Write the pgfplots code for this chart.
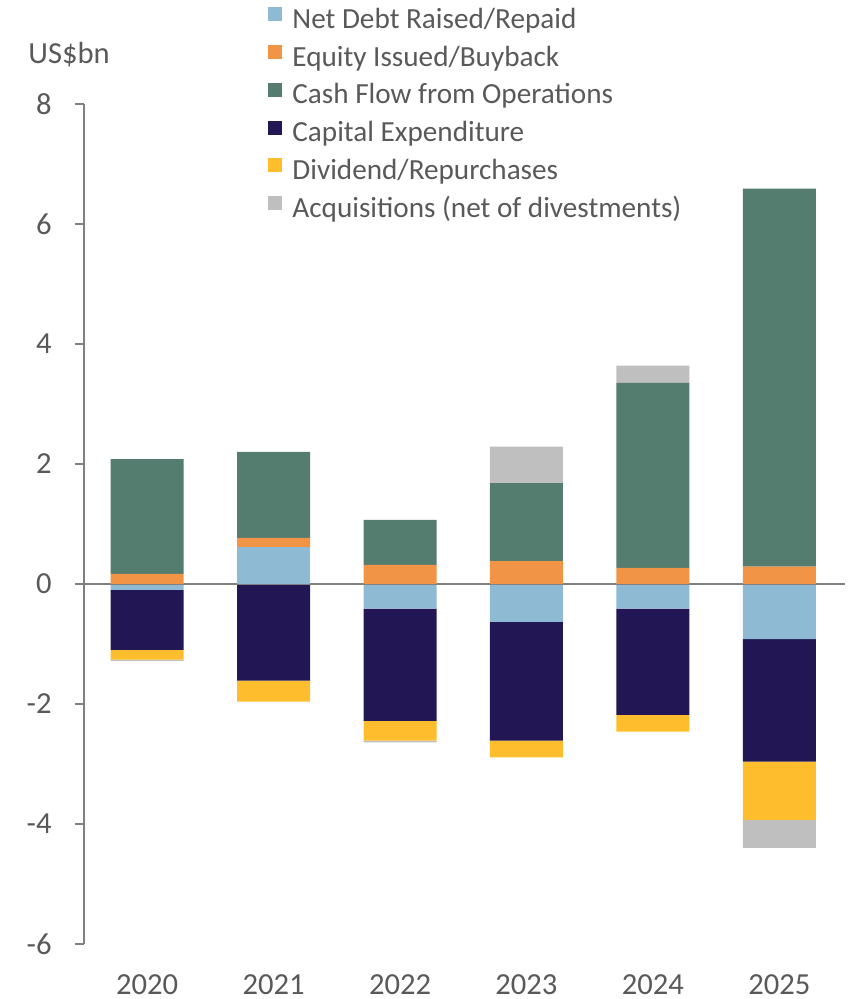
\documentclass[border=0pt]{standalone}
\usepackage{fontspec}
\setmainfont{Carlito}
\usepackage{pgfplots}
\pgfplotsset{compat=1.18}
\definecolor{cNet}{HTML}{8FBAD3}
\definecolor{cEq}{HTML}{F29446}
\definecolor{cCfo}{HTML}{547C6F}
\definecolor{cCap}{HTML}{221655}
\definecolor{cDiv}{HTML}{FDBD2C}
\definecolor{cAcq}{HTML}{BFBFBF}
\definecolor{txt}{HTML}{595959}
\definecolor{axg}{HTML}{808080}
\pgfplotsset{
  common/.style={
    scale only axis, width=380.5pt, height=420pt,
    xmin=-0.5, xmax=5.52, ymin=-6, ymax=8,
    ybar stacked, bar width=36.5pt,
    every axis plot/.append style={draw=none},
  },
  sq/.style={legend image code/.code={\fill[#1] (0pt,0pt) rectangle (7pt,7pt);}},
}
\begin{document}
\begin{tikzpicture}
\path[use as bounding box] (-42pt,-27.5pt) rectangle (383.5pt,472pt);
% negative stacks
\begin{axis}[common, axis x line=none, axis y line=none]
\addplot[fill=cNet] coordinates {(0,-0.10) (1,0) (2,-0.41) (3,-0.63) (4,-0.41) (5,-0.92)};
\addplot[fill=cCap] coordinates {(0,-1.00) (1,-1.61) (2,-1.87) (3,-1.98) (4,-1.77) (5,-2.04)};
\addplot[fill=cDiv] coordinates {(0,-0.16) (1,-0.35) (2,-0.33) (3,-0.28) (4,-0.28) (5,-0.97)};
\addplot[fill=cAcq] coordinates {(0,-0.02) (1,0) (2,-0.03) (3,0) (4,0) (5,-0.47)};
\end{axis}
% positive stacks
\begin{axis}[common,
  axis y line*=left, axis x line*=bottom,
  x axis line style={draw=none}, xtick style={draw=none},
  xtick={0,1,2,3,4,5}, xticklabels={2020,2021,2022,2023,2024,2025},
  ytick={-6,-4,...,8},
  tick align=outside, major tick length=4.5pt,
  y axis line style={axg, line width=0.7pt}, ytick style={axg, line width=0.7pt},
  /pgf/number format/assume math mode=true,
  tick label style={font=\fontsize{15.3pt}{18pt}\selectfont, text=txt},
  yticklabel style={anchor=east, inner sep=0pt, xshift=-11.5pt},
  xticklabel style={anchor=north, inner sep=0pt, yshift=-10.5pt},
  legend style={at={(axis description cs:0.2418,1.1156)}, anchor=north west,
    draw=none, fill=none, inner sep=0pt, row sep=5.4pt,
    font=\fontsize{14.6pt}{17pt}\selectfont, text=txt,
    nodes={inner sep=0pt, text height=10pt, text depth=3pt},
    /tikz/every odd column/.append style={column sep=5pt}},
  legend cell align=left,
  clip=false,
]
\addplot[fill=cNet, forget plot] coordinates {(0,0) (1,0.62) (2,0) (3,0) (4,0) (5,0)};
\addplot[fill=cEq, forget plot] coordinates {(0,0.17) (1,0.15) (2,0.32) (3,0.38) (4,0.27) (5,0.29)};
\addplot[fill=cCfo, forget plot] coordinates {(0,1.91) (1,1.43) (2,0.75) (3,1.30) (4,3.08) (5,6.30)};
\addplot[fill=cAcq, forget plot] coordinates {(0,0) (1,0) (2,0) (3,0.61) (4,0.29) (5,0)};
\draw[axg, line width=1.1pt] (axis cs:-0.5,0) -- (axis cs:5.52,0);
\addlegendimage{sq=cNet}\addlegendentry{Net Debt Raised/Repaid}
\addlegendimage{sq=cEq}\addlegendentry{Equity Issued/Buyback}
\addlegendimage{sq=cCfo}\addlegendentry{Cash Flow from Operations}
\addlegendimage{sq=cCap}\addlegendentry{Capital Expenditure}
\addlegendimage{sq=cDiv}\addlegendentry{Dividend/Repurchases}
\addlegendimage{sq=cAcq}\addlegendentry{Acquisitions (net of divestments)}
\node[anchor=west, text=txt, font=\fontsize{15.3pt}{18pt}\selectfont, inner sep=0pt]
  at (axis description cs:-0.0736,1.0583) {US\$bn};
\end{axis}
\end{tikzpicture}
\end{document}
